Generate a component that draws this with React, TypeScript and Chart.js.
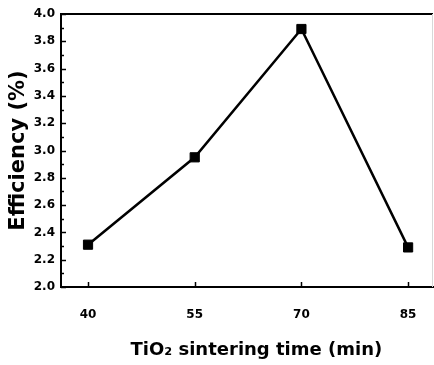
import React, { useEffect, useRef } from "react";
import { Chart, registerables } from "chart.js";

Chart.register(...registerables);

const sinteringTimes = [40, 55, 70, 85];
const efficiency = [2.31, 2.95, 3.89, 2.29];
const xTicks = [40, 55, 70, 85];
const yMin = 2.0;
const yMax = 4.0;
const yMajorStep = 0.2;
const yMinorStep = 0.1;
const xTitle = "TiO₂ sintering time (min)";
const yTitle = "Efficiency (%)";

const FONT = "'DejaVu Sans', sans-serif";

const tickPlugin = {
  id: "inwardTicks",
  afterDatasetsDraw(chart: any) {
    const { ctx, chartArea, scales } = chart;
    const x = scales.x;
    const y = scales.y;
    ctx.save();
    ctx.strokeStyle = "#000";
    ctx.lineWidth = 1.5;
    const n = Math.round((yMax - yMin) / yMinorStep);
    for (let i = 0; i <= n; i++) {
      const v = yMin + i * yMinorStep;
      const py = Math.round(y.getPixelForValue(v)) + 0.5;
      const major = i % Math.round(yMajorStep / yMinorStep) === 0;
      const len = major ? 5 : 3;
      ctx.beginPath();
      ctx.moveTo(chartArea.left, py);
      ctx.lineTo(chartArea.left + len, py);
      ctx.stroke();
    }
    xTicks.forEach((v) => {
      const px = Math.round(x.getPixelForValue(v)) + 0.5;
      ctx.beginPath();
      ctx.moveTo(px, chartArea.bottom);
      ctx.lineTo(px, chartArea.bottom - 5);
      ctx.stroke();
    });
    ctx.lineWidth = 2;
    ctx.beginPath();
    ctx.moveTo(chartArea.left, chartArea.top);
    ctx.lineTo(chartArea.right, chartArea.top);
    ctx.stroke();
    ctx.strokeStyle = "#d8d8d8";
    ctx.lineWidth = 1;
    ctx.beginPath();
    ctx.moveTo(chartArea.right - 0.5, chartArea.top);
    ctx.lineTo(chartArea.right - 0.5, chartArea.bottom);
    ctx.stroke();
    ctx.restore();
  },
};

export default function App() {
  const ref = useRef<HTMLCanvasElement | null>(null);

  useEffect(() => {
    if (!ref.current) return;
    const chart = new Chart(ref.current, {
      type: "line",
      data: {
        datasets: [
          {
            data: sinteringTimes.map((t, i) => ({ x: t, y: efficiency[i] })),
            borderColor: "#000",
            backgroundColor: "#000",
            borderWidth: 2.5,
            pointStyle: "rect",
            pointRadius: 6.5,
            pointBorderWidth: 1,
            pointBackgroundColor: "#000",
            pointBorderColor: "#000",
            tension: 0,
            clip: false,
          },
        ],
      },
      options: {
        responsive: false,
        animation: false,
        events: [],
        layout: { autoPadding: false, padding: { top: 14, right: 1, left: 0, bottom: 0 } },
        plugins: {
          legend: { display: false },
          tooltip: { enabled: false },
        },
        scales: {
          x: {
            type: "linear",
            min: 36.2,
            max: 88.5,
            afterBuildTicks: (s: any) => {
              s.ticks = xTicks.map((v) => ({ value: v }));
            },
            afterFit: (s: any) => {
              s.height = 78;
              s.paddingLeft = 0;
              s.paddingRight = 0;
            },
            grid: { display: false, drawTicks: false },
            border: { display: true, color: "#000", width: 2 },
            ticks: {
              color: "#000",
              font: { family: FONT, size: 12, weight: "bold" },
              padding: 21,
              maxRotation: 0,
              autoSkip: false,
              callback: (v: any) => String(v),
            },
            title: {
              display: true,
              text: "   " + xTitle,
              color: "#000",
              font: { family: FONT, size: 18, weight: "bold" },
              padding: { top: 0, bottom: 4 },
            },
          },
          y: {
            min: yMin,
            max: yMax,
            afterFit: (s: any) => {
              s.width = 61;
              s.paddingTop = 0;
              s.paddingBottom = 0;
            },
            grid: { display: false, drawTicks: false },
            border: { display: true, color: "#000", width: 2 },
            ticks: {
              stepSize: yMajorStep,
              color: "#000",
              font: { family: FONT, size: 12, weight: "bold" },
              padding: 6,
              callback: (v: any) => Number(v).toFixed(1),
            },
            title: {
              display: true,
              text: yTitle,
              color: "#000",
              font: { family: FONT, size: 21, weight: "bold" },
              padding: { top: 6, bottom: 0 },
            },
          },
        },
      },
      plugins: [tickPlugin],
    });
    return () => chart.destroy();
  }, []);

  return (
    <div style={{ position: "absolute", left: 0, top: 0, width: 434, height: 365, background: "#fff" }}>
      <canvas ref={ref} width={434} height={365} style={{ display: "block" }} />
    </div>
  );
}
